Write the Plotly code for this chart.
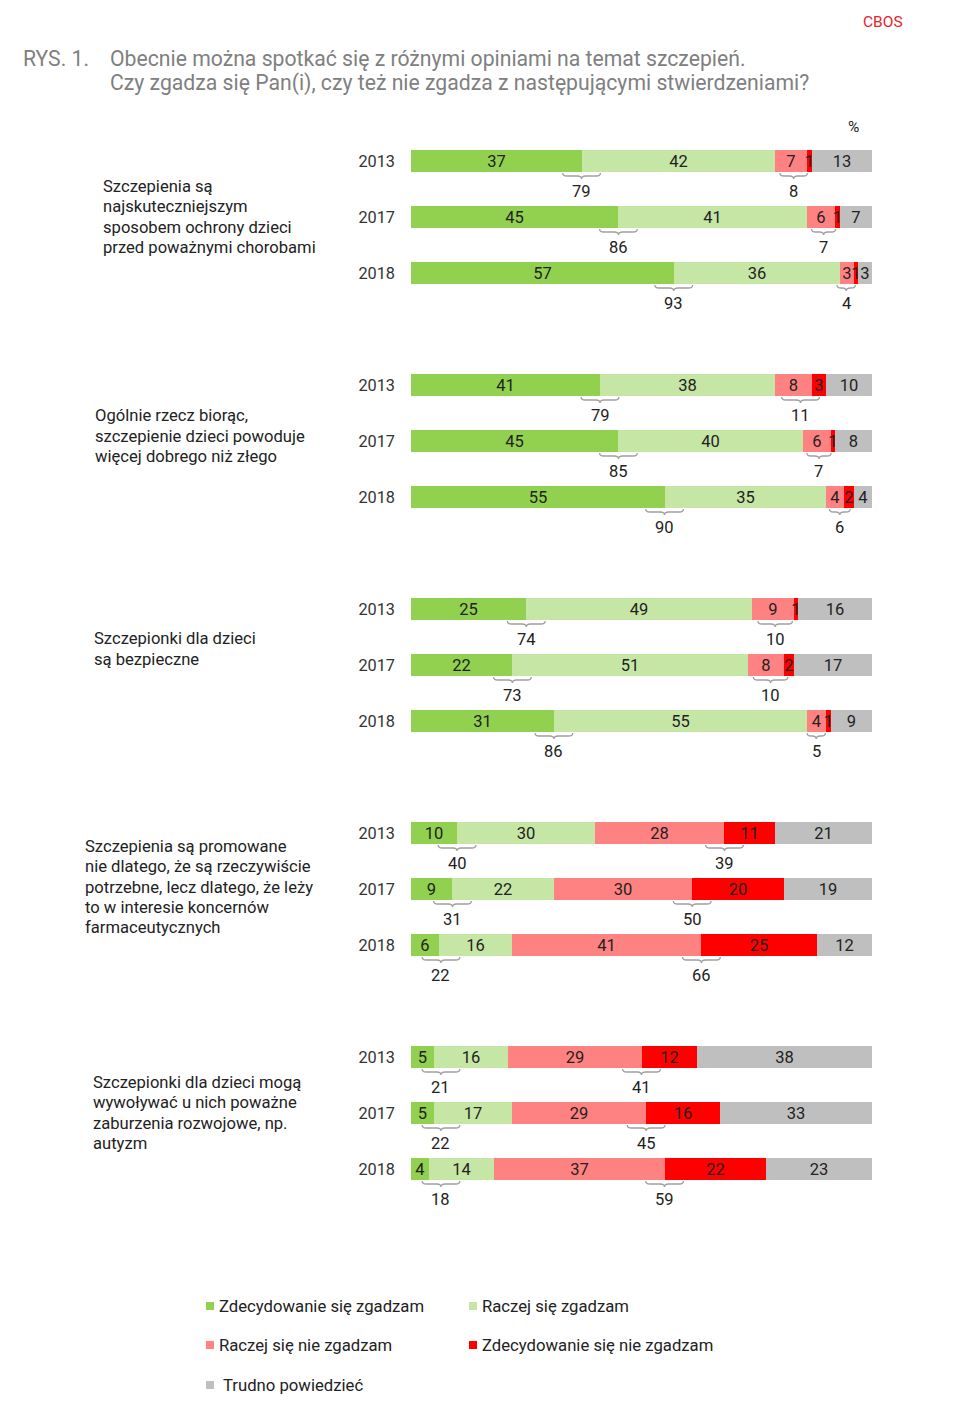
import plotly.graph_objects as go

# ---------------- DATA ----------------
statements = [
    "Szczepienia są<br>najskuteczniejszym<br>sposobem ochrony dzieci<br>przed poważnymi chorobami",
    "Ogólnie rzecz biorąc,<br>szczepienie dzieci powoduje<br>więcej dobrego niż złego",
    "Szczepionki dla dzieci<br>są bezpieczne",
    "Szczepienia są promowane<br>nie dlatego, że są rzeczywiście<br>potrzebne, lecz dlatego, że leży<br>to w interesie koncernów<br>farmaceutycznych",
    "Szczepionki dla dzieci mogą<br>wywoływać u nich poważne<br>zaburzenia rozwojowe, np.<br>autyzm",
]
years = ["2013", "2017", "2018"]

definitely_agree = [37, 45, 57, 41, 45, 55, 25, 22, 31, 10, 9, 6, 5, 5, 4]
rather_agree = [42, 41, 36, 38, 40, 35, 49, 51, 55, 30, 22, 16, 16, 17, 14]
rather_disagree = [7, 6, 3, 8, 6, 4, 9, 8, 4, 28, 30, 41, 29, 29, 37]
definitely_disagree = [1, 1, 1, 3, 1, 2, 1, 2, 1, 11, 20, 25, 12, 16, 22]
hard_to_say = [13, 7, 3, 10, 8, 4, 16, 17, 9, 21, 19, 12, 38, 33, 23]
agree_totals = [79, 86, 93, 79, 85, 90, 74, 73, 86, 40, 31, 22, 21, 22, 18]
disagree_totals = [8, 7, 4, 11, 7, 6, 10, 10, 5, 39, 50, 66, 41, 45, 59]

series_names = ["Zdecydowanie się zgadzam", "Raczej się zgadzam", "Raczej się nie zgadzam",
                "Zdecydowanie się nie zgadzam", "Trudno powiedzieć"]
series_values = [definitely_agree, rather_agree, rather_disagree, definitely_disagree, hard_to_say]

# ---------------- STYLE / LAYOUT ----------------
colors = ["#92D050", "#C6E6A6", "#FF8282", "#FF0000", "#BFBFBF"]
W, H = 978, 1414
X0, X100 = 411, 872
SC = (X100 - X0) / 100.0
FONT = "Roboto"
TXT = "#222222"

def px(p):
    return (p - X0) / SC

BAR_H = 22
first_center, row_step, group_step = 161, 56, 224
centers = []
for g in range(len(statements)):
    for k in range(len(years)):
        centers.append(first_center + g * group_step + k * row_step)

fig = go.Figure()
for name, vals, col in zip(series_names, series_values, colors):
    fig.add_trace(go.Bar(
        x=vals, y=centers, orientation="h", name=name, width=BAR_H,
        marker=dict(color=col, line=dict(width=0)),
        text=vals, texttemplate="%{text}", textposition="inside",
        insidetextanchor="middle", textangle=0,
        textfont=dict(family=FONT, size=16.5, color=TXT),
        showlegend=False, hoverinfo="skip",
    ))

shapes = []
annotations = []
brace_col = "#A0A0A0"

def brace(c, w, yb):
    r = min(0.9, w / 4)
    xl, xr = c - w / 2, c + w / 2
    y0, y1, y2 = yb + 1, yb + 4, yb + 7
    path = (f"M {xl},{y0} Q {xl},{y1} {xl + r},{y1} L {c - r},{y1} "
            f"Q {c},{y1} {c},{y2} Q {c},{y1} {c + r},{y1} L {xr - r},{y1} "
            f"Q {xr},{y1} {xr},{y0}")
    return dict(type="path", path=path, xref="x", yref="y",
                line=dict(color=brace_col, width=1.3))

for i, yc in enumerate(centers):
    yb = yc + BAR_H / 2
    # agree brace
    ca = max(definitely_agree[i], 6.5)
    shapes.append(brace(ca, 8.2, yb))
    annotations.append(dict(x=ca, y=yc + 30, text=str(agree_totals[i]),
                            font=dict(family=FONT, size=16.5, color=TXT)))
    # disagree brace
    start = definitely_agree[i] + rather_agree[i]
    s = disagree_totals[i]
    if s <= 12:
        cd = start + s / 2 - (0.6 if s <= 5 else 0)
    else:
        cd = start + rather_disagree[i]
    wd = min(8.2, max(4.0, s * 0.75))
    shapes.append(brace(cd, wd, yb))
    annotations.append(dict(x=cd, y=yc + 30, text=str(s),
                            font=dict(family=FONT, size=16.5, color=TXT)))

# statement labels (one annotation per line for exact line spacing)
label_left = [101, 93, 92, 83, 91]
label_dy = [0, -5, -16, -2, 0]
LINE_H = 20.3
for g, st in enumerate(statements):
    mid = centers[g * 3 + 1] + label_dy[g]
    lines = st.split("<br>")
    n = len(lines)
    for j, ln in enumerate(lines):
        annotations.append(dict(x=px(label_left[g]), y=mid + (j - (n - 1) / 2) * LINE_H, text=ln,
                                xanchor="left", yanchor="middle", align="left",
                                font=dict(family=FONT, size=16.6, color=TXT)))

# title & header
TITLE_COL = "#808080"
annotations += [
    dict(x=px(905), y=22, text="CBOS", xanchor="right", yanchor="middle",
         font=dict(family=FONT, size=15.5, color="#E8232A")),
    dict(x=px(21), y=58, text="RYS. 1.", xanchor="left", yanchor="middle",
         font=dict(family=FONT, size=21.2, color=TITLE_COL)),
    dict(x=px(108), y=58, text="Obecnie można spotkać się z różnymi opiniami na temat szczepień.",
         xanchor="left", yanchor="middle", font=dict(family=FONT, size=21.2, color=TITLE_COL)),
    dict(x=px(108), y=83, text="Czy zgadza się Pan(i), czy też nie zgadza z następującymi stwierdzeniami?",
         xanchor="left", yanchor="middle", font=dict(family=FONT, size=21.2, color=TITLE_COL)),
    dict(x=px(853), y=127, text="%", xanchor="center", yanchor="middle",
         font=dict(family=FONT, size=15.5, color=TXT)),
]

# custom legend
leg_pos = [(206, 1306), (469, 1306), (206, 1345), (469, 1345), (206, 1385)]
leg_text_gap = [3, 3, 3, 3, 7]
for (lx, ly), name, col, gap in zip(leg_pos, series_names, colors, leg_text_gap):
    shapes.append(dict(type="rect", xref="x", yref="y", x0=px(lx), x1=px(lx + 8),
                       y0=ly - 4, y1=ly + 4, fillcolor=col, line=dict(width=0)))
    annotations.append(dict(x=px(lx + 8 + gap), y=ly, text=name,
                            xanchor="left", yanchor="middle",
                            font=dict(family=FONT, size=16.7, color=TXT)))

for a in annotations:
    a.setdefault("showarrow", False)
    a.setdefault("xref", "x")
    a.setdefault("yref", "y")

fig.update_layout(
    width=W, height=H,
    margin=dict(l=0, r=0, t=0, b=0),
    paper_bgcolor="white", plot_bgcolor="white",
    barmode="stack", bargap=0,
    uniformtext=dict(minsize=16.5, mode="show"),
    xaxis=dict(range=[px(0), px(W)], showgrid=False, zeroline=False, showticklabels=False,
               showline=False, fixedrange=True),
    yaxis=dict(range=[H, 0], showgrid=False, zeroline=False, showline=False,
               tickvals=centers, ticktext=years * len(statements), ticks="",
               anchor="free", position=(X0 - 16) / W,
               tickfont=dict(family=FONT, size=16.3, color="#333333"), fixedrange=True),
    shapes=shapes, annotations=annotations,
    font=dict(family=FONT),
    hovermode=False,
)

fig.write_html("out.html", config={"displayModeBar": False},
               post_script="document.body.style.margin='0px';")
